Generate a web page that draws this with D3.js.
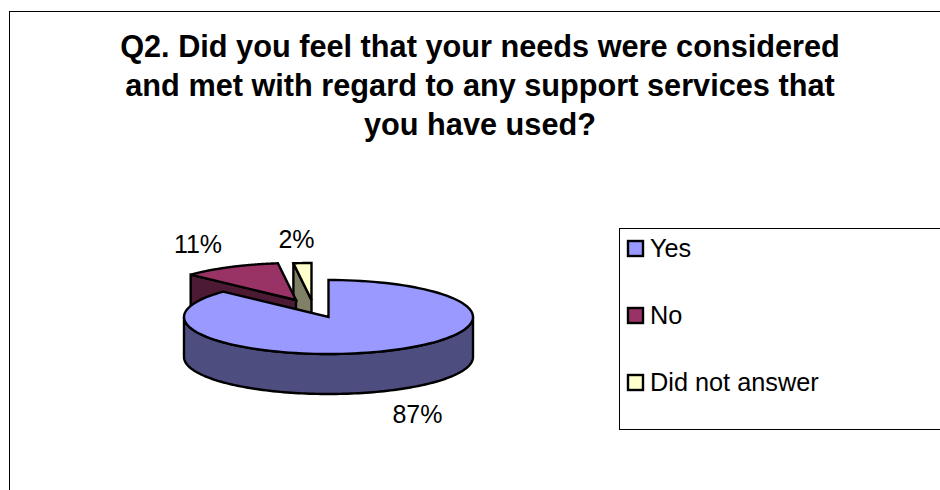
<!DOCTYPE html>
<html>
<head>
<meta charset="utf-8">
<script src="https://cdn.jsdelivr.net/npm/d3@7/dist/d3.min.js"></script>
<style>
html,body{margin:0;padding:0;background:#fff;overflow:hidden}
text{font-family:"Liberation Sans",Arial,sans-serif;fill:#000}
</style>
</head>
<body>
<svg id="chart" width="940" height="490"></svg>
<script>
// Survey responses
const categories = ["Yes", "No", "Did not answer"];
const percentages = [87, 11, 2];
const titleLines = [
  "Q2. Did you feel that your needs were considered",
  "and met with regard to any support services that",
  "you have used?"
];
const topColors = ["#9999ff", "#993366", "#ffffcc"];
const sideColors = ["#4d4d80", "#4d1a33", "#808066"];

// Tilted pie layout
const centre = {x: 328.5, y: 317};
const radiusX = 144.5, radiusY = 37, depth = 40;
const explode = [[0, 0], [-32.5, -17], [-17, -17]];
const labelAnchors = [[417.5, 423], [198, 252.5], [296.5, 247.5]];

const svg = d3.select("#chart");

// Chart frame runs off the right and bottom edges
svg.append("rect").attr("x", 9.5).attr("y", 11.5).attr("width", 960).attr("height", 520)
  .attr("fill", "#fff").attr("stroke", "#000").attr("stroke-width", 1);

svg.append("g").selectAll("text").data(titleLines).join("text")
  .attr("x", 480).attr("y", (d, i) => 57 + i * 39)
  .attr("text-anchor", "middle").attr("font-size", 30.7).attr("font-weight", "bold")
  .text(d => d);

const slices = d3.pie().sort(null).value(d => d)(percentages)
  .map((s, i) => ({...s, i, dx: explode[i][0], dy: explode[i][1]}));

const sx = d3.scaleLinear().domain([-1, 1]).range([-radiusX, radiusX]);
const sy = d3.scaleLinear().domain([-1, 1]).range([-radiusY, radiusY]);
const line = d3.line();
const rimPoint = (s, a, drop = 0) => [
  centre.x + s.dx + sx(Math.sin(a)),
  centre.y + s.dy + sy(-Math.cos(a)) + drop
];
const apex = (s, drop = 0) => [centre.x + s.dx, centre.y + s.dy + drop];
const rim = (s, a0, a1, drop = 0) =>
  d3.range(0, 121).map(k => rimPoint(s, a0 + (a1 - a0) * k / 120, drop));

const pieGroup = svg.append("g").attr("stroke", "#000").attr("stroke-width", 2.4)
  .attr("stroke-linejoin", "miter");

// Paint back to front: the small exploded slices first, the large slice over them
[slices[2], slices[1], slices[0]].forEach(s => {
  if (s.i === 0) {
    // Outer wall along the near half of the ellipse
    const near = rim(s, Math.PI / 2, 3 * Math.PI / 2);
    const nearLow = rim(s, Math.PI / 2, 3 * Math.PI / 2, depth).reverse();
    pieGroup.append("path").attr("d", line(near.concat(nearLow)) + "Z").attr("fill", sideColors[s.i]);
  } else {
    // Cut face along the slice's leading edge
    const p = rimPoint(s, s.startAngle);
    const q = apex(s);
    const wall = [p, q, apex(s, depth), rimPoint(s, s.startAngle, depth)];
    pieGroup.append("path").attr("d", line(wall) + "Z").attr("fill", sideColors[s.i]);
  }
  const face = [apex(s)].concat(rim(s, s.startAngle, s.endAngle));
  pieGroup.append("path").attr("d", line(face) + "Z").attr("fill", topColors[s.i]);
});

svg.append("g").selectAll("text").data(percentages).join("text")
  .attr("x", (d, i) => labelAnchors[i][0]).attr("y", (d, i) => labelAnchors[i][1])
  .attr("text-anchor", "middle").attr("font-size", 25)
  .text(d => d + "%");

// Legend
const legend = svg.append("g");
legend.append("rect").attr("x", 619.5).attr("y", 228.5).attr("width", 340).attr("height", 201)
  .attr("fill", "#fff").attr("stroke", "#000").attr("stroke-width", 1);
const legendY = d3.scalePoint().domain(categories).range([248.5, 382.5]);
const rows = legend.selectAll("g").data(categories).join("g")
  .attr("transform", d => `translate(0,${legendY(d)})`);
rows.append("rect").attr("x", 628).attr("y", -7.5).attr("width", 15).attr("height", 15)
  .attr("fill", (d, i) => topColors[i]).attr("stroke", "#000").attr("stroke-width", 2.4);
rows.append("text").attr("x", 650).attr("y", 8.5).attr("font-size", 25.3).text(d => d);
</script>
</body>
</html>
